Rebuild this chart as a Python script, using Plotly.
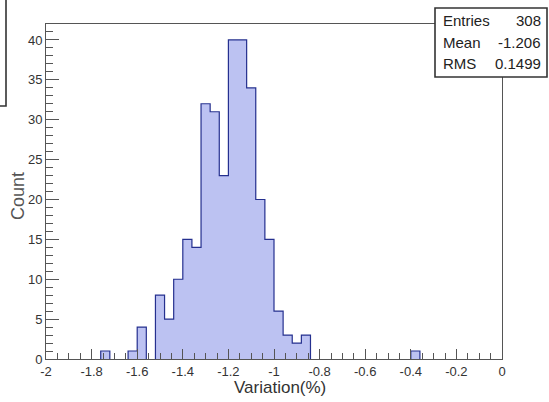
import plotly.graph_objects as go

# ---- data ----
x_min = -2.0
bin_width = 0.04
counts = [0, 0, 0, 0, 0, 0, 1, 0, 0, 1,
          4, 0, 8, 5, 10, 15, 14, 32, 31, 23,
          40, 40, 34, 20, 15, 6, 3, 2, 3, 0,
          0, 0, 0, 0, 0, 0, 0, 0, 0, 0,
          1, 0, 0, 0, 0, 0, 0, 0, 0, 0]
x_tick_vals = [-2, -1.8, -1.6, -1.4, -1.2, -1, -0.8, -0.6, -0.4, -0.2, 0]
x_tick_text = ["-2", "-1.8", "-1.6", "-1.4", "-1.2", "-1", "-0.8", "-0.6", "-0.4", "-0.2", "0"]
stats_labels = ["Entries", "Mean", "RMS"]
stats_values = ["308", "-1.206", "0.1499"]
x_title = "Variation(%)"
y_title = "Count"

edges = [round(x_min + bin_width * i, 4) for i in range(len(counts) + 1)]
centers = [round(x_min + bin_width * (i + 0.5), 4) for i in range(len(counts))]

# outline (step) built from the histogram values
ox, oy = [], []
i = 0
n = len(counts)
while i < n:
    if counts[i] == 0:
        i += 1
        continue
    ox.append(edges[i]); oy.append(0)
    while i < n and counts[i] != 0:
        ox += [edges[i], edges[i + 1]]
        oy += [counts[i], counts[i]]
        i += 1
    ox.append(edges[i]); oy.append(0)
    ox.append(None); oy.append(None)

FONT = "Liberation Sans, Arial, Helvetica, sans-serif"
fill_col = "#bcc2f2"
line_col = "#25308f"
axis_col = "#555555"
text_col = "#333333"

fig = go.Figure()
fig.add_trace(go.Bar(x=centers, y=counts, width=bin_width,
                     marker=dict(color=fill_col, line=dict(width=0)),
                     showlegend=False, hoverinfo="skip"))
fig.add_trace(go.Scatter(x=ox, y=oy, mode="lines",
                         line=dict(color=line_col, width=1.2),
                         showlegend=False, hoverinfo="skip"))

W, H = 549, 402
ml, mr, mt, mb = 46, 47, 24, 43
pw, ph = W - ml - mr, H - mt - mb

def px_x(p):
    return (p - ml) / pw

def px_y(p):
    return (H - mb - p) / ph

shapes = [
    # clipped title box at top-left
    dict(type="rect", xref="paper", yref="paper",
         x0=px_x(-10), x1=px_x(6), y0=px_y(106), y1=px_y(-10),
         line=dict(color="#333333", width=1.6), fillcolor="white", layer="above"),
    # stats box
    dict(type="rect", xref="paper", yref="paper",
         x0=px_x(435), x1=px_x(547), y0=px_y(77), y1=px_y(8),
         line=dict(color="#333333", width=1.6), fillcolor="white", layer="above"),
]

annotations = []
row_y = [20, 42, 63.5]
for lab, val, ry in zip(stats_labels, stats_values, row_y):
    annotations.append(dict(xref="paper", yref="paper", x=px_x(441), y=px_y(ry),
                            text=lab, showarrow=False, xanchor="left", yanchor="middle",
                            font=dict(family=FONT, size=15, color="#222222")))
    annotations.append(dict(xref="paper", yref="paper", x=px_x(543), y=px_y(ry),
                            text=val, showarrow=False, xanchor="right", yanchor="middle",
                            font=dict(family=FONT, size=15, color="#222222")))
annotations.append(dict(xref="paper", yref="paper", x=px_x(280), y=px_y(387),
                        text=x_title, showarrow=False, xanchor="center", yanchor="middle",
                        font=dict(family=FONT, size=17, color=text_col)))
annotations.append(dict(xref="paper", yref="paper", x=px_x(18), y=px_y(196),
                        text=y_title, showarrow=False, xanchor="center", yanchor="middle",
                        textangle=-90,
                        font=dict(family=FONT, size=18, color="#555555")))

fig.update_layout(
    width=W, height=H,
    margin=dict(l=ml, r=mr, t=mt, b=mb, pad=0),
    paper_bgcolor="white", plot_bgcolor="white",
    bargap=0,
    font=dict(family=FONT, size=13, color=text_col),
    shapes=shapes,
    annotations=annotations,
    xaxis=dict(range=[-2, 0], showgrid=False, zeroline=False,
               showline=True, mirror=True, linecolor=axis_col, linewidth=1,
               ticks="inside", ticklen=10, tickcolor=axis_col, tickwidth=1,
               tickmode="array", tickvals=x_tick_vals, ticktext=x_tick_text,
               tickfont=dict(family=FONT, size=13, color=text_col),
               minor=dict(ticks="inside", ticklen=6, tickcolor=axis_col,
                          tick0=-2, dtick=0.05, showgrid=False)),
    yaxis=dict(range=[0, 42], showgrid=False, zeroline=False,
               showline=True, mirror=True, linecolor=axis_col, linewidth=1,
               ticks="inside", ticklen=13, tickcolor=axis_col, tickwidth=1,
               tick0=0, dtick=5,
               tickfont=dict(family=FONT, size=13, color=text_col),
               minor=dict(ticks="inside", ticklen=7, tickcolor=axis_col,
                          tick0=0, dtick=1, showgrid=False)),
)

fig.write_html("out.html",
               config={"displayModeBar": False, "staticPlot": True},
               post_script="document.body.style.margin='0';document.body.style.overflow='hidden';")
